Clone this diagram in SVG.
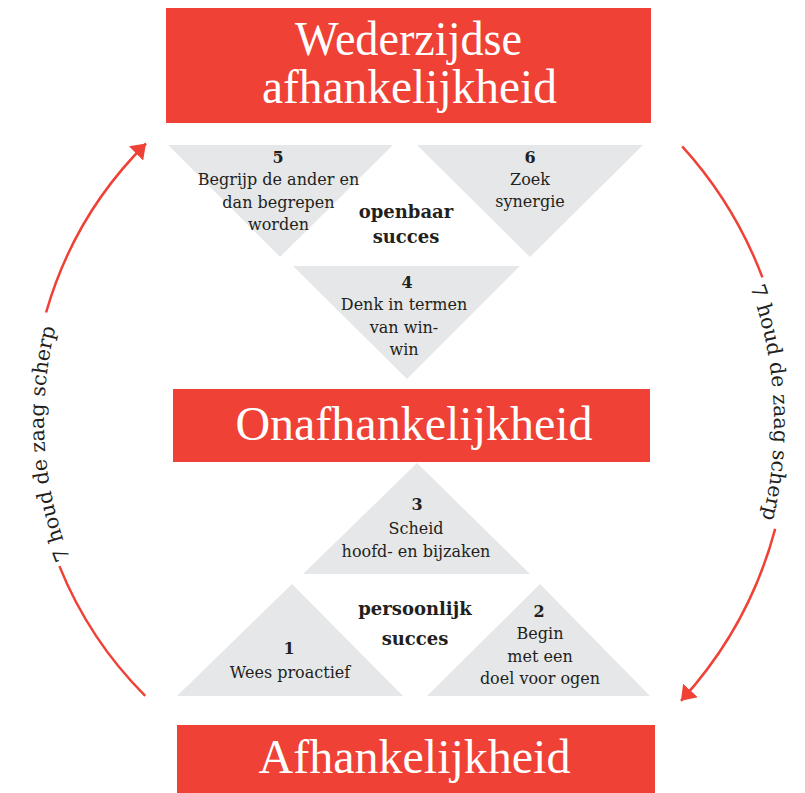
<svg xmlns="http://www.w3.org/2000/svg" xmlns:xlink="http://www.w3.org/1999/xlink" width="805" height="793" viewBox="0 0 805 793">
  <style>
    .box { fill: #ef4136; }
    .head { font-family: "Liberation Serif", "Times New Roman", serif; font-size: 48px; fill: #ffffff; text-anchor: middle; }
    .tri { fill: #e6e7e8; }
    .lbl { font-family: "DejaVu Serif", "Liberation Serif", serif; font-size: 16px; fill: #231f20; text-anchor: middle; }
    .num { font-weight: bold; }
    .mid { font-family: "DejaVu Serif", "Liberation Serif", serif; font-size: 18px; font-weight: bold; fill: #231f20; text-anchor: middle; }
    .arc { fill: none; stroke: #ef4136; stroke-width: 2.5; }
    .side { font-family: "DejaVu Serif", "Liberation Serif", serif; font-size: 20.5px; fill: #231f20; }
  </style>
  <defs>
    <marker id="arrow" markerUnits="userSpaceOnUse" markerWidth="16" markerHeight="22" refX="14" refY="10" orient="auto">
      <path d="M0,0 L14,10 L0,20 Z" fill="#ef4136"/>
    </marker>
    <path id="sideLeft" d="M148.4,680.4 A377,377 0 0,1 117.2,196.8"/>
    <path id="sideRight" d="M667.3,152.2 A397,397 0 0,1 694.1,661.9"/>
  </defs>

  <rect width="805" height="793" fill="#ffffff"/>

  <!-- level headings -->
  <g id="wederzijdse-afhankelijkheid">
    <rect class="box" x="166" y="8" width="485" height="115"/>
    <text class="head" x="408.5" y="55" textLength="227" lengthAdjust="spacingAndGlyphs">Wederzijdse</text>
    <text class="head" x="409.5" y="103" textLength="295" lengthAdjust="spacingAndGlyphs">afhankelijkheid</text>
  </g>
  <g id="onafhankelijkheid">
    <rect class="box" x="173" y="389" width="477" height="73"/>
    <text class="head" x="414" y="440">Onafhankelijkheid</text>
  </g>
  <g id="afhankelijkheid">
    <rect class="box" x="177" y="725" width="478" height="68"/>
    <text class="head" x="414.5" y="773">Afhankelijkheid</text>
  </g>

  <!-- habits 4-6: openbaar succes -->
  <g id="habit-5">
    <polygon class="tri" points="168,145 393,145 280,257"/>
    <text class="lbl num" x="278" y="163">5</text>
    <text class="lbl" x="278.5" y="185">Begrijp de ander en</text>
    <text class="lbl" x="278.5" y="208">dan begrepen</text>
    <text class="lbl" x="278.5" y="230">worden</text>
  </g>
  <g id="habit-6">
    <polygon class="tri" points="417,145 643,145 530,257"/>
    <text class="lbl num" x="530" y="163">6</text>
    <text class="lbl" x="530" y="185">Zoek</text>
    <text class="lbl" x="530" y="207">synergie</text>
  </g>
  <g id="habit-4">
    <polygon class="tri" points="293,266 520,266 407,379"/>
    <text class="lbl num" x="407" y="288">4</text>
    <text class="lbl" x="404" y="310">Denk in termen</text>
    <text class="lbl" x="404" y="333">van win-</text>
    <text class="lbl" x="404" y="355">win</text>
  </g>
  <g id="openbaar-succes">
    <text class="mid" x="406" y="218">openbaar</text>
    <text class="mid" x="406" y="243">succes</text>
  </g>

  <!-- habits 1-3: persoonlijk succes -->
  <g id="habit-3">
    <polygon class="tri" points="417,463 530,574 303,574"/>
    <text class="lbl num" x="417" y="510">3</text>
    <text class="lbl" x="416" y="534">Scheid</text>
    <text class="lbl" x="416" y="557">hoofd- en bijzaken</text>
  </g>
  <g id="habit-1">
    <polygon class="tri" points="292,584 403,696 177,696"/>
    <text class="lbl num" x="289" y="654">1</text>
    <text class="lbl" x="290" y="678">Wees proactief</text>
  </g>
  <g id="habit-2">
    <polygon class="tri" points="540,584 650,696 427,696"/>
    <text class="lbl num" x="539" y="617">2</text>
    <text class="lbl" x="540" y="639">Begin</text>
    <text class="lbl" x="540" y="662">met een</text>
    <text class="lbl" x="540" y="684">doel voor ogen</text>
  </g>
  <g id="persoonlijk-succes">
    <text class="mid" x="415" y="615">persoonlijk</text>
    <text class="mid" x="415" y="645">succes</text>
  </g>

  <!-- habit 7 cycle arrows -->
  <g id="connectors">
    <path class="arc" d="M145.2,695.8 A390,390 0 0,1 59.4,566.1"/>
    <path class="arc" d="M46.1,312.5 A390,390 0 0,1 146,143.5" marker-end="url(#arrow)"/>
    <text class="side"><textPath xlink:href="#sideLeft" startOffset="50%" text-anchor="middle">7 houd de zaag scherp</textPath></text>

    <path class="arc" d="M682.2,146.3 A412,412 0 0,1 762.4,277.4"/>
    <path class="arc" d="M775.2,528.9 A412,412 0 0,1 681,700.8" marker-end="url(#arrow)"/>
    <text class="side"><textPath xlink:href="#sideRight" startOffset="50%" text-anchor="middle">7 houd de zaag scherp</textPath></text>
  </g>
</svg>
